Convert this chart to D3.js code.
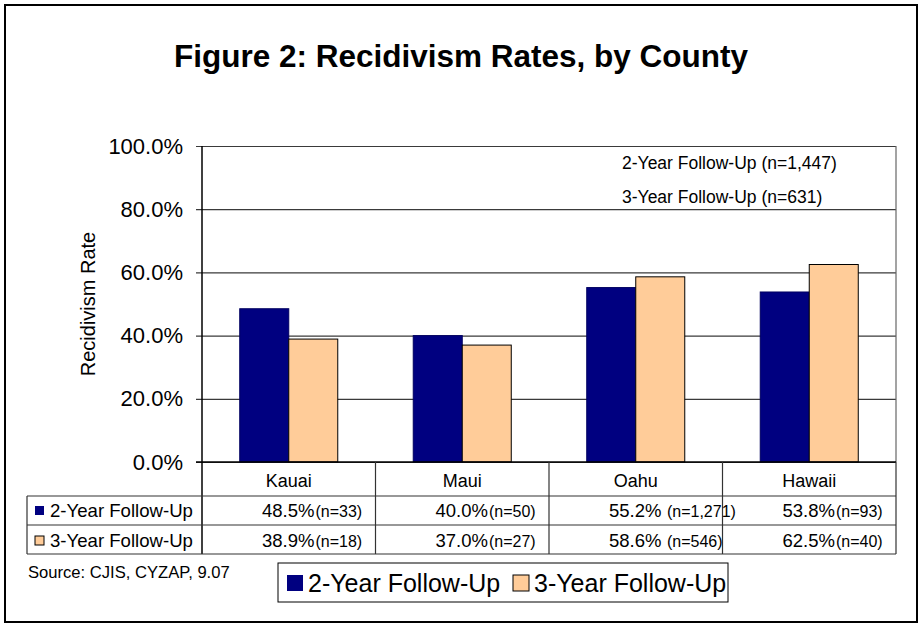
<!DOCTYPE html>
<html>
<head>
<meta charset="utf-8">
<script src="https://cdn.jsdelivr.net/npm/d3@7"></script>
<style>
  html, body { margin: 0; padding: 0; background: #fff; }
  svg { display: block; font-family: "Liberation Sans", Arial, Helvetica, sans-serif; }
</style>
</head>
<body>
<svg id="chart" width="920" height="626"></svg>
<script>
// Recidivism rates by county, 2- and 3-year follow-up
const counties = ["Kauai", "Maui", "Oahu", "Hawaii"];
const seriesNames = ["2-Year Follow-Up", "3-Year Follow-Up"];
const twoYear = [48.5, 40.0, 55.2, 53.8];
const threeYear = [38.9, 37.0, 58.6, 62.5];
const twoYearN = ["(n=33)", "(n=50)", " (n=1,271)", "(n=93)"];
const threeYearN = ["(n=18)", "(n=27)", " (n=546)", "(n=40)"];
const yTicks = [0, 20, 40, 60, 80, 100];
const totalsText = ["2-Year Follow-Up (n=1,447)", "3-Year Follow-Up (n=631)"];
const seriesColors = ["#000080", "#FFCC99"];

const svg = d3.select("#chart");

// outer frame
svg.append("rect")
  .attr("x", 5).attr("y", 5).attr("width", 912).attr("height", 617)
  .attr("fill", "#fff").attr("stroke", "#000").attr("stroke-width", 2);

// title
svg.append("text")
  .attr("x", 461).attr("y", 67)
  .attr("text-anchor", "middle")
  .attr("font-size", 31.5).attr("font-weight", "bold")
  .text("Figure 2: Recidivism Rates, by County");

const plot = { left: 202, right: 896, top: 146, bottom: 462 };

const x = d3.scaleBand().domain(counties).range([plot.left, plot.right]).padding(0);
const xs = d3.scaleBand().domain([0, 1]).range([0, x.bandwidth()])
  .paddingInner(0).paddingOuter(0.77);
const y = d3.scaleLinear().domain([0, 100]).range([plot.bottom, plot.top]);

// gridlines + y axis
const yAxis = d3.axisLeft(y)
  .tickValues(yTicks)
  .tickSize(-(plot.right - plot.left))
  .tickSizeOuter(0)
  .tickPadding(19)
  .tickFormat(d => d.toFixed(1) + "%");

const gy = svg.append("g")
  .attr("transform", `translate(${plot.left},0)`)
  .call(yAxis);
gy.select(".domain").remove();
gy.selectAll(".tick line")
  .attr("x1", -6)
  .attr("stroke", "#3a3a3a").attr("stroke-width", 1.2);
gy.selectAll(".tick text")
  .attr("font-size", 22).attr("fill", "#000")
  .attr("font-family", "Liberation Sans, Arial, sans-serif");

// right frame edge of plot area
svg.append("line")
  .attr("x1", plot.right).attr("x2", plot.right)
  .attr("y1", plot.top).attr("y2", plot.bottom)
  .attr("stroke", "#666").attr("stroke-width", 1.2);

// y axis title
svg.append("text")
  .attr("transform", `translate(95,${(plot.top + plot.bottom) / 2}) rotate(-90)`)
  .attr("text-anchor", "middle")
  .attr("font-size", 20)
  .text("Recidivism Rate");

// totals note
svg.selectAll("text.total")
  .data(totalsText).enter().append("text")
  .attr("class", "total")
  .attr("x", 622)
  .attr("y", (d, i) => 169 + i * 34)
  .attr("font-size", 17.5)
  .text(d => d);

// bars
const rows = counties.map((c, i) => ({ county: c, vals: [twoYear[i], threeYear[i]] }));
const groups = svg.selectAll("g.county")
  .data(rows).enter().append("g")
  .attr("class", "county")
  .attr("transform", d => `translate(${x(d.county)},0)`);

groups.selectAll("rect")
  .data(d => d.vals.map((v, s) => ({ v, s })))
  .enter().append("rect")
  .attr("x", d => xs(d.s))
  .attr("width", xs.bandwidth())
  .attr("y", d => y(d.v))
  .attr("height", d => y(0) - y(d.v))
  .attr("fill", d => seriesColors[d.s])
  .attr("stroke", d => d.s === 0 ? "#000060" : "#000")
  .attr("stroke-width", 1);

// axis line (left) and baseline
svg.append("line")
  .attr("x1", plot.left).attr("x2", plot.left)
  .attr("y1", plot.top).attr("y2", 554)
  .attr("stroke", "#000").attr("stroke-width", 1.5);
svg.append("line")
  .attr("x1", plot.left - 6).attr("x2", plot.right)
  .attr("y1", plot.bottom).attr("y2", plot.bottom)
  .attr("stroke", "#000").attr("stroke-width", 1.5);

// data table below the axis
const tableLeft = 27;
const rowY = [496, 525, 554];
const tbl = svg.append("g").attr("stroke", "#333").attr("stroke-width", 1.2);
rowY.forEach(yy => {
  tbl.append("line").attr("x1", tableLeft).attr("x2", plot.right).attr("y1", yy).attr("y2", yy);
});
tbl.append("line").attr("x1", tableLeft).attr("x2", tableLeft).attr("y1", rowY[0]).attr("y2", rowY[2]);
counties.forEach(c => {
  tbl.append("line").attr("x1", x(c) + x.bandwidth()).attr("x2", x(c) + x.bandwidth())
    .attr("y1", plot.bottom).attr("y2", rowY[2]);
});

// category labels
svg.selectAll("text.cat")
  .data(counties).enter().append("text")
  .attr("class", "cat")
  .attr("x", d => x(d) + x.bandwidth() / 2)
  .attr("y", 487)
  .attr("text-anchor", "middle")
  .attr("font-size", 18)
  .text(d => d);

// row headers with small swatches
const rowBase = [517, 547];
seriesNames.forEach((name, s) => {
  svg.append("rect")
    .attr("x", 35).attr("y", rowBase[s] - 11).attr("width", 9).attr("height", 9)
    .attr("fill", seriesColors[s])
    .attr("stroke", s === 0 ? "none" : "#000").attr("stroke-width", 1);
  svg.append("text")
    .attr("x", 50).attr("y", rowBase[s])
    .attr("font-size", 18.6)
    .text(name);
});

// cell values
const cellData = [
  counties.map((c, i) => ({ c, v: twoYear[i], n: twoYearN[i] })),
  counties.map((c, i) => ({ c, v: threeYear[i], n: threeYearN[i] }))
];
cellData.forEach((row, s) => {
  row.forEach(d => {
    const t = svg.append("text")
      .attr("x", x(d.c) + 60).attr("y", rowBase[s]);
    t.append("tspan").attr("font-size", 18.5).text(d.v.toFixed(1) + "%");
    t.append("tspan").attr("font-size", 16).attr("dx", 1).text(d.n);
  });
});

// source note
svg.append("text")
  .attr("x", 28).attr("y", 578)
  .attr("font-size", 16.6)
  .text("Source: CJIS, CYZAP, 9.07");

// legend
const lg = svg.append("g");
lg.append("rect")
  .attr("x", 278).attr("y", 563).attr("width", 450).attr("height", 39)
  .attr("fill", "#fff").attr("stroke", "#000").attr("stroke-width", 1);
const legendX = [287, 513];
seriesNames.forEach((name, s) => {
  lg.append("rect")
    .attr("x", legendX[s]).attr("y", 575).attr("width", 16).attr("height", 16)
    .attr("fill", seriesColors[s])
    .attr("stroke", s === 0 ? "none" : "#000").attr("stroke-width", 1);
  lg.append("text")
    .attr("x", legendX[s] + 21).attr("y", 592)
    .attr("font-size", 25)
    .text(name);
});
</script>
</body>
</html>
